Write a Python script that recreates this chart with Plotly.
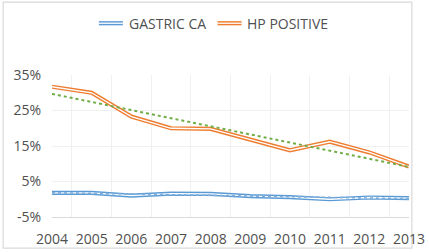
import numpy as np
import plotly.graph_objects as go

years = ["2004", "2005", "2006", "2007", "2008", "2009", "2010", "2011", "2012", "2013"]
gastric_ca = [1.8, 1.8, 1.0, 1.6, 1.5, 0.9, 0.6, 0.0, 0.5, 0.3]
hp_positive = [31.7, 30.0, 23.3, 20.0, 19.8, 16.8, 13.8, 16.2, 13.2, 9.2]
y_ticks = [-5, 5, 15, 25, 35]
y_tick_labels = ["-5%", "5%", "15%", "25%", "35%"]
series_names = ["GASTRIC CA", "HP POSITIVE"]

BLUE = "#5B9BD5"
ORANGE = "#ED7D31"
GREEN = "#70AD47"
TEXT = "#505050"

W, H = 429, 252
ML, MR, MT, MB = 52, 4, 75, 33
PW, PH = W - ML - MR, H - MT - MB


def trend(vals):
    idx = np.arange(1, len(vals) + 1)
    m, b = np.polyfit(idx, vals, 1)
    return list(m * idx + b)


fig = go.Figure()

for vals, col in [(gastric_ca, BLUE), (hp_positive, ORANGE)]:
    fig.add_trace(go.Scatter(x=years, y=vals, mode="lines",
                             line=dict(color=col, width=4.2), showlegend=False,
                             hoverinfo="skip"))
    fig.add_trace(go.Scatter(x=years, y=vals, mode="lines",
                             line=dict(color="white", width=1.3), showlegend=False,
                             hoverinfo="skip"))

fig.add_trace(go.Scatter(x=years, y=trend(gastric_ca), mode="lines",
                         line=dict(color="#7FAEDC", width=1.6, dash="dot"),
                         showlegend=False))
fig.add_trace(go.Scatter(x=years, y=trend(hp_positive), mode="lines",
                         line=dict(color=GREEN, width=2, dash="dot"),
                         showlegend=False))


def px2paper(px, py):
    return (px - ML) / PW, (H - MB - py) / PH


shapes = []
annotations = []
legend_items = [(101, 126, 130, series_names[0], BLUE),
                (225, 250, 254, series_names[1], ORANGE)]
for x0, x1, tx, name, col in legend_items:
    a0, b0 = px2paper(x0, 22.5)
    a1, _ = px2paper(x1, 22.5)
    shapes.append(dict(type="line", xref="paper", yref="paper", x0=a0, x1=a1,
                       y0=b0, y1=b0, line=dict(color=col, width=4.2)))
    shapes.append(dict(type="line", xref="paper", yref="paper", x0=a0, x1=a1,
                       y0=b0, y1=b0, line=dict(color="white", width=1.3)))
    ta, tb = px2paper(tx, 22.5)
    annotations.append(dict(xref="paper", yref="paper", x=ta, y=tb, text=name,
                            showarrow=False, xanchor="left", yanchor="middle",
                            font=dict(family="Open Sans", size=14, color=TEXT)))

# outer chart border
bx0, by0 = px2paper(1, 1)
bx1, by1 = px2paper(428, 250.5)
shapes.append(dict(type="rect", xref="paper", yref="paper", x0=bx0, x1=bx1,
                   y0=by1, y1=by0, line=dict(color="#D9D9D9", width=1.2),
                   layer="below"))

fig.update_layout(
    width=W, height=H,
    margin=dict(l=ML, r=MR, t=MT, b=MB, pad=0),
    paper_bgcolor="white", plot_bgcolor="white",
    showlegend=False,
    shapes=shapes, annotations=annotations,
    font=dict(family="Open Sans", size=14, color=TEXT),
    xaxis=dict(type="category", tickson="boundaries", showgrid=True,
               gridcolor="#F0F0F0", gridwidth=1, showline=True,
               linecolor="#D9D9D9", linewidth=1, ticks="", zeroline=False,
               tickangle=0,
               tickfont=dict(family="Open Sans", size=14, color=TEXT),
               ticklabelstandoff=9, fixedrange=True),
    yaxis=dict(range=[-5, 35], tickvals=y_ticks, ticktext=y_tick_labels,
               showgrid=True, gridcolor="#F0F0F0", gridwidth=1,
               zeroline=False, showline=False, ticks="",
               tickfont=dict(family="Open Sans", size=14, color=TEXT),
               ticklabelstandoff=10, fixedrange=True),
)

fig.write_html(
    "out.html",
    config={"displayModeBar": False},
    post_script="document.body.style.margin='0px';document.body.style.overflow='hidden';",
)
